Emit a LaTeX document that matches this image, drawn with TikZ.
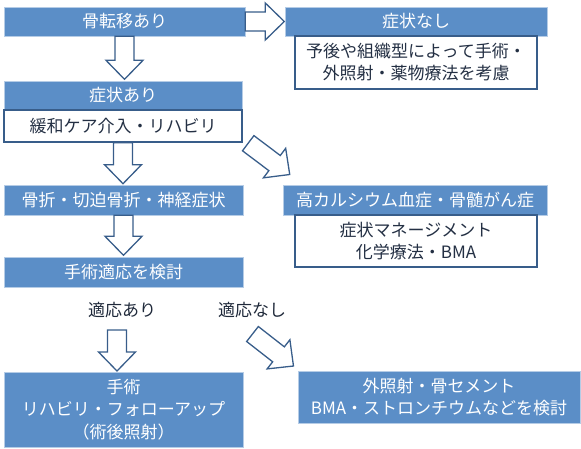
\documentclass[tikz,border=0pt]{standalone}
\usepackage{fontspec}
\newfontfamily\jpfont{Noto Sans CJK JP}
\usepackage{xcolor}
\usepackage{tikz}
\usetikzlibrary{calc}

\definecolor{boxblue}{RGB}{91,142,199}
\definecolor{edgeblue}{RGB}{56,93,138}
\definecolor{inktxt}{RGB}{36,48,68}

\tikzset{
	bluebox/.style={shape=rectangle, inner sep=0, fill=boxblue, draw=white!55!boxblue, line width=0.6pt, text=white, align=center, font=\jpfont\fontsize{17}{22.5}\selectfont},
	whitebox/.style={shape=rectangle, inner sep=0, fill=white, draw=edgeblue, line width=1.4pt, text=inktxt, align=center, font=\jpfont\fontsize{17}{22}\selectfont},
	plainlbl/.style={inner sep=0, text=inktxt!85!black, font=\jpfont\fontsize{17}{22}\selectfont},
	arrowline/.style={draw=edgeblue, fill=white, line width=1.3pt, line join=miter}
}

% block arrow: start, angle, length
\newcommand{\blockarrow}[3]{%
	\begin{scope}[shift={#1}, rotate=#2]
		\draw[arrowline] (0,-9.5) -- ({#3-19},-9.5) -- ({#3-19},-18.5) -- (#3,0) -- ({#3-19},18.5) -- ({#3-19},9.5) -- (0,9.5) -- cycle;
	\end{scope}}

\begin{document}
\begin{tikzpicture}[x=1pt, y=-1pt]
	\useasboundingbox (0,0) rectangle (581,448);
	% Boxes:
	\node[bluebox, minimum width=241, minimum height=29] (met) at (124.5, 21.5) {骨転移あり};
	\node[bluebox, minimum width=262, minimum height=29] (none) at (416, 21.5) {症状なし};
	\node[whitebox, minimum width=242, minimum height=53] (noneTxt) at (416, 62.5) {予後や組織型によって手術・\\外照射・薬物療法を考慮};
	\node[bluebox, minimum width=238, minimum height=29] (sym) at (123, 95.5) {症状あり};
	\node[whitebox, minimum width=238, minimum height=32] (symTxt) at (123, 126) {緩和ケア介入・リハビリ};
	\node[bluebox, minimum width=239, minimum height=30] (frac) at (123.5, 200) {骨折・切迫骨折・神経症状};
	\node[bluebox, minimum width=264, minimum height=30] (hyper) at (415, 200) {高カルシウム血症・骨髄がん症};
	\node[whitebox, minimum width=242, minimum height=52] (hyperTxt) at (416, 241) {症状マネージメント\\化学療法・BMA};
	\node[bluebox, minimum width=239, minimum height=30] (eval) at (123.5, 272) {手術適応を検討};
	\node[plainlbl] (yesLbl) at (122, 310) {適応あり};
	\node[plainlbl] (noLbl) at (252, 310) {適応なし};
	\node[bluebox, minimum width=239, minimum height=75] (ope) at (123.5, 409.5) {手術\\リハビリ・フォローアップ\\（術後照射）};
	\node[bluebox, minimum width=282, minimum height=52] (rt) at (439, 397) {外照射・骨セメント\\BMA・ストロンチウムなどを検討};
	% Arrows:
	\coordinate (d1) at ($(symTxt.south east)+(5.5,0.5)$);
	\coordinate (d2) at ($(noLbl)+(0.5,24)$);
	\coordinate (yesArr) at ($(yesLbl)+(-5,20)$);
	\blockarrow{(met.east)}{0}{39}
	\blockarrow{(met.south)}{-90}{43}
	\blockarrow{(symTxt.south)}{-90}{41}
	\blockarrow{(frac.south)}{-90}{40}
	\blockarrow{(yesArr)}{-90}{41}
	\blockarrow{(d1)}{-37}{52}
	\blockarrow{(d2)}{-38}{52}
\end{tikzpicture}
\end{document}
